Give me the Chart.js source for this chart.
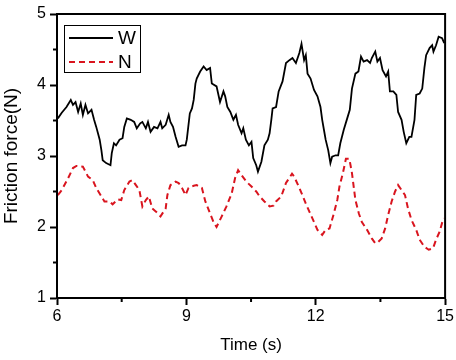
<!DOCTYPE html>
<html>
<head>
<meta charset="utf-8">
<script src="https://cdn.jsdelivr.net/npm/chart.js@4.4.1/dist/chart.umd.min.js"></script>
<style>
  html, body { margin: 0; padding: 0; background: #fff; }
  #wrap { width: 456px; height: 360px; }
</style>
</head>
<body>
<div id="wrap"><canvas id="myChart" width="456" height="360"></canvas></div>
<script>
// data
const wTime = [6.02, 6.11, 6.22, 6.32, 6.37, 6.43, 6.49, 6.55, 6.60, 6.66, 6.72, 6.80, 6.86, 6.91, 6.95, 6.99, 7.03, 7.06, 7.14, 7.24,
  7.27, 7.32, 7.37, 7.45, 7.52, 7.56, 7.62, 7.71, 7.79, 7.85, 7.93, 7.98, 8.06, 8.11, 8.17, 8.25, 8.33, 8.40, 8.44, 8.52,
  8.59, 8.63, 8.69, 8.75, 8.82, 8.90, 8.98, 9.01, 9.08, 9.13, 9.17, 9.21, 9.24, 9.32, 9.40, 9.47, 9.55, 9.59, 9.70, 9.78,
  9.86, 9.90, 9.95, 10.02, 10.09, 10.15, 10.20, 10.28, 10.32, 10.38, 10.45, 10.51, 10.55, 10.62, 10.66, 10.74, 10.81, 10.89, 10.93, 10.97,
  11.00, 11.08, 11.14, 11.23, 11.31, 11.39, 11.46, 11.54, 11.62, 11.67, 11.73, 11.77, 11.81, 11.88, 11.96, 12.04, 12.11, 12.15, 12.19, 12.23,
  12.29, 12.34, 12.38, 12.46, 12.52, 12.57, 12.65, 12.73, 12.79, 12.84, 12.92, 12.99, 13.05, 13.11, 13.19, 13.26, 13.30, 13.38, 13.43, 13.49,
  13.55, 13.63, 13.68, 13.72, 13.80, 13.87, 13.91, 13.99, 14.04, 14.10, 14.17, 14.22, 14.29, 14.33, 14.41, 14.47, 14.52, 14.56, 14.64, 14.70,
  14.73, 14.79, 14.85, 14.93, 14.98];
const wForce = [3.53, 3.61, 3.69, 3.79, 3.72, 3.76, 3.62, 3.74, 3.58, 3.72, 3.60, 3.65, 3.51, 3.41, 3.32, 3.23, 3.08, 2.94, 2.90, 2.87,
  3.04, 3.18, 3.15, 3.23, 3.25, 3.41, 3.53, 3.51, 3.48, 3.39, 3.46, 3.48, 3.39, 3.48, 3.34, 3.41, 3.39, 3.48, 3.39, 3.44,
  3.58, 3.48, 3.41, 3.27, 3.13, 3.15, 3.15, 3.23, 3.60, 3.67, 3.79, 4.02, 4.09, 4.19, 4.26, 4.21, 4.24, 4.02, 3.98, 3.76,
  3.91, 3.84, 3.69, 3.62, 3.51, 3.58, 3.44, 3.32, 3.39, 3.23, 3.15, 3.20, 2.97, 2.87, 2.78, 2.92, 3.15, 3.23, 3.32, 3.51,
  3.67, 3.69, 3.91, 4.05, 4.31, 4.35, 4.38, 4.31, 4.45, 4.58, 4.35, 4.42, 4.16, 4.09, 3.93, 3.84, 3.69, 3.51, 3.37, 3.23,
  3.08, 2.90, 2.99, 3.01, 3.01, 3.18, 3.37, 3.53, 3.65, 3.95, 4.16, 4.19, 4.40, 4.33, 4.35, 4.31, 4.38, 4.47, 4.33, 4.38,
  4.21, 4.12, 4.19, 3.91, 3.91, 3.86, 3.62, 3.51, 3.34, 3.18, 3.27, 3.27, 3.51, 3.86, 3.88, 3.95, 4.24, 4.42, 4.52, 4.56,
  4.47, 4.56, 4.68, 4.66, 4.59];

const nTime = [6.02, 6.11, 6.26, 6.37, 6.45, 6.60, 6.72, 6.83, 6.91, 7.03, 7.10, 7.22, 7.29, 7.41, 7.49, 7.56, 7.68, 7.75, 7.83, 7.91,
  7.98, 8.06, 8.13, 8.21, 8.29, 8.40, 8.52, 8.56, 8.63, 8.75, 8.82, 8.90, 8.98, 9.05, 9.17, 9.24, 9.36, 9.44, 9.55, 9.63,
  9.70, 9.82, 9.93, 10.05, 10.13, 10.20, 10.28, 10.39, 10.51, 10.62, 10.70, 10.81, 10.93, 11.02, 11.08, 11.20, 11.31, 11.45, 11.50, 11.62,
  11.69, 11.77, 11.85, 11.96, 12.04, 12.15, 12.23, 12.32, 12.42, 12.50, 12.55, 12.63, 12.70, 12.78, 12.84, 12.88, 12.92, 13.00, 13.07, 13.19,
  13.30, 13.38, 13.45, 13.53, 13.61, 13.68, 13.76, 13.84, 13.91, 13.99, 14.07, 14.14, 14.22, 14.33, 14.41, 14.52, 14.62, 14.72, 14.79, 14.87,
  14.95, 14.98];
const nForce = [2.45, 2.52, 2.69, 2.83, 2.86, 2.85, 2.71, 2.66, 2.55, 2.43, 2.36, 2.36, 2.32, 2.39, 2.38, 2.52, 2.64, 2.66, 2.59, 2.52,
  2.29, 2.38, 2.43, 2.26, 2.22, 2.15, 2.26, 2.45, 2.59, 2.64, 2.62, 2.55, 2.45, 2.55, 2.58, 2.59, 2.55, 2.36, 2.19, 2.07,
  2.00, 2.15, 2.29, 2.47, 2.69, 2.80, 2.73, 2.64, 2.57, 2.50, 2.43, 2.36, 2.29, 2.30, 2.36, 2.43, 2.62, 2.75, 2.71, 2.55,
  2.45, 2.33, 2.22, 2.07, 1.96, 1.89, 1.96, 1.98, 2.19, 2.38, 2.57, 2.76, 2.96, 2.96, 2.76, 2.57, 2.38, 2.19, 2.07, 1.96,
  1.84, 1.77, 1.79, 1.84, 1.98, 2.17, 2.36, 2.50, 2.59, 2.52, 2.45, 2.26, 2.10, 1.96, 1.82, 1.72, 1.68, 1.70, 1.82, 1.93,
  2.10, 2.12];

const seriesNames = ['W', 'N'];
const xTicks = [6, 9, 12, 15];
const yTicks = [1, 2, 3, 4, 5];

const FONT = "'Liberation Sans', Arial, sans-serif";

function toPoints(xs, ys) {
  return xs.map((x, i) => ({ x: x, y: ys[i] }));
}

// frame, minor ticks and boxed legend
const framePlugin = {
  id: 'frame',
  afterDraw(chart) {
    const ctx = chart.ctx;
    const a = chart.chartArea;
    const xs = chart.scales.x, ys = chart.scales.y;
    ctx.save();
    ctx.strokeStyle = '#000';
    ctx.lineWidth = 2;
    ctx.strokeRect(a.left, a.top, a.right - a.left, a.bottom - a.top);

    // minor ticks half way between majors
    ctx.beginPath();
    for (let i = 0; i < xTicks.length - 1; i++) {
      const px = xs.getPixelForValue((xTicks[i] + xTicks[i + 1]) / 2);
      ctx.moveTo(px, a.bottom);
      ctx.lineTo(px, a.bottom + 4);
    }
    for (let i = 0; i < yTicks.length - 1; i++) {
      const py = ys.getPixelForValue((yTicks[i] + yTicks[i + 1]) / 2);
      ctx.moveTo(a.left, py);
      ctx.lineTo(a.left - 4, py);
    }
    ctx.stroke();

    // legend box
    const bx = 64, by = 25, bw = 76, bh = 47;
    ctx.lineWidth = 1;
    ctx.strokeRect(bx + 0.5, by + 0.5, bw, bh);
    ctx.font = '19px ' + FONT;
    ctx.textBaseline = 'middle';
    chart.data.datasets.forEach((ds, i) => {
      const y = by + 13 + i * 24;
      ctx.beginPath();
      ctx.strokeStyle = ds.borderColor;
      ctx.lineWidth = 2;
      ctx.setLineDash(ds.borderDash || []);
      ctx.moveTo(bx + 5, y);
      ctx.lineTo(bx + 49, y);
      ctx.stroke();
      ctx.setLineDash([]);
      ctx.fillStyle = '#000';
      ctx.fillText(ds.label, bx + 54, y + 1);
    });
    ctx.restore();
  }
};

const data = {
  datasets: [
    {
      label: seriesNames[0],
      data: toPoints(wTime, wForce),
      borderColor: '#000000',
      borderWidth: 1.8,
      pointRadius: 0,
      tension: 0
    },
    {
      label: seriesNames[1],
      data: toPoints(nTime, nForce),
      borderColor: '#d9141e',
      borderWidth: 2,
      borderDash: [6, 4],
      pointRadius: 0,
      tension: 0
    }
  ]
};

const config = {
  type: 'line',
  data,
  options: {
    responsive: false,
    animation: false,
    layout: { padding: { top: 14, right: 7, left: 0, bottom: 0 } },
    plugins: {
      legend: { display: false },
      tooltip: { enabled: false }
    },
    scales: {
      x: {
        type: 'linear',
        min: 6,
        max: 15,
        afterBuildTicks: (s) => { s.ticks = xTicks.map(v => ({ value: v })); },
        afterFit: (s) => { s.height = 62; },
        grid: { drawOnChartArea: false, drawTicks: true, tickLength: 7, tickWidth: 2, tickColor: '#000' },
        border: { display: true, color: '#000', width: 2 },
        ticks: { color: '#000', padding: 2, maxRotation: 0, font: { family: FONT, size: 16 } },
        title: { display: true, text: 'Time (s)', color: '#000', padding: { top: 0, bottom: 4 }, font: { family: FONT, size: 17 } }
      },
      y: {
        min: 1,
        max: 5,
        afterBuildTicks: (s) => { s.ticks = yTicks.map(v => ({ value: v })); },
        afterFit: (s) => { s.width = 57; },
        grid: { drawOnChartArea: false, drawTicks: true, tickLength: 7, tickWidth: 2, tickColor: '#000' },
        border: { display: true, color: '#000', width: 2 },
        ticks: { color: '#000', padding: 4, font: { family: FONT, size: 16 } },
        title: { display: true, text: 'Friction force(N)', color: '#000', padding: { top: 0, bottom: 0 }, font: { family: FONT, size: 19 } }
      }
    }
  },
  plugins: [framePlugin]
};

var myChart = new Chart(document.getElementById('myChart'), config);
</script>
</body>
</html>
